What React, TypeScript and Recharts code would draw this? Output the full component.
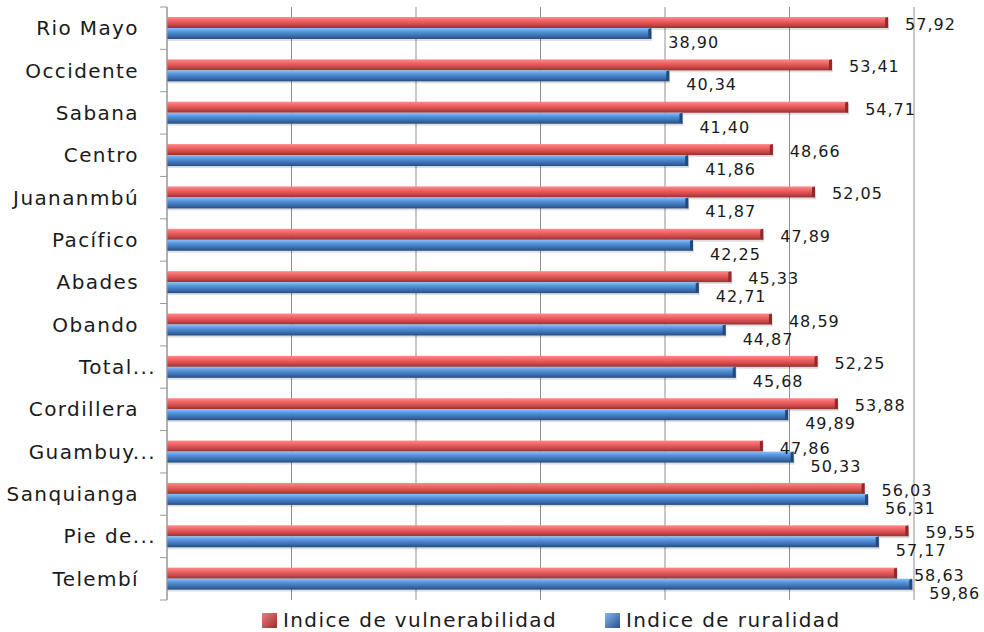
import React from 'react'
import { BarChart, Bar, XAxis, YAxis, CartesianGrid, Legend, LabelList } from 'recharts'

const regiones = [
  'Rio Mayo',
  'Occidente',
  'Sabana',
  'Centro',
  'Juananmbú',
  'Pacífico',
  'Abades',
  'Obando',
  'Total...',
  'Cordillera',
  'Guambuy...',
  'Sanquianga',
  'Pie de...',
  'Telembí',
]
const vulnerabilidad = [57.92, 53.41, 54.71, 48.66, 52.05, 47.89, 45.33, 48.59, 52.25, 53.88, 47.86, 56.03, 59.55, 58.63]
const ruralidad = [38.9, 40.34, 41.4, 41.86, 41.87, 42.25, 42.71, 44.87, 45.68, 49.89, 50.33, 56.31, 57.17, 59.86]
const xTicks = [0, 10, 20, 30, 40, 50, 60]

const data = regiones.map((region, i) => ({
  region,
  vulnerabilidad: vulnerabilidad[i],
  ruralidad: ruralidad[i],
}))

const W = 984
const H = 632
const LEGEND_H = 24
// the legend's height is added to the bottom offset by recharts
const MARGIN = { top: 7, right: 70, bottom: 32 - LEGEND_H, left: 0 }
const AXIS_W = 167
const FONT = '"DejaVu Sans", Verdana, sans-serif'
const bandSize = (H - 7 - 32) / regiones.length

const fmt = (v: number) => v.toFixed(2).replace('.', ',')

// bevelled bar: gradient body, darker end face and a soft shadow underneath
const makeBar = (id: string, endColor: string) => (props: any) => {
  const { x, y, width, height } = props
  if (!width || width <= 0) return null
  return (
    <g>
      <rect x={x + 1} y={y + 2} width={width} height={height} fill='#000' opacity={0.12} />
      <rect x={x} y={y} width={width} height={height} fill={`url(#${id})`} />
      <polygon
        points={`${x + width - 3},${y + 1} ${x + width},${y} ${x + width},${y + height} ${x + width - 3},${y + height - 1}`}
        fill={endColor}
      />
    </g>
  )
}

const VulnBar = makeBar('gradRojo', '#8e2a2a')
const RuralBar = makeBar('gradAzul', '#23497a')

const makeLabel = (dy: number) => (props: any) => {
  const { x, y, width, height, value } = props
  return (
    <text
      x={x + width + 17}
      y={y + height / 2 + dy}
      dominantBaseline='central'
      fontFamily={FONT}
      fontSize={16}
      letterSpacing={1}
      fill='#1a1a1a'
    >
      {fmt(value)}
    </text>
  )
}

const RegionTick = (props: any) => {
  const { x, y, payload, index } = props
  const name: string = payload.value
  const shift = name.endsWith('...') ? 17 : 0
  return (
    <g>
      <line x1={AXIS_W - 7} x2={AXIS_W} y1={y + bandSize / 2} y2={y + bandSize / 2} stroke='#9a9a9a' />
      {index === 0 && <line x1={AXIS_W - 7} x2={AXIS_W} y1={y - bandSize / 2} y2={y - bandSize / 2} stroke='#9a9a9a' />}
      <text
        x={x - 20 + shift}
        y={y}
        textAnchor='end'
        dominantBaseline='central'
        fontFamily={FONT}
        fontSize={20}
        letterSpacing={1.4}
        fill='#1a1a1a'
      >
        {name}
      </text>
    </g>
  )
}

const LegendSwatch = ({ id }: { id: string }) => (
  <svg width={15} height={15} style={{ marginRight: 6 }}>
    <rect x={0} y={0} width={15} height={15} fill={`url(#${id}L)`} />
    <defs>
      <linearGradient id={`${id}L`} x1='0' y1='0' x2='1' y2='1'>
        <stop offset='0%' stopColor={id === 'gradRojo' ? '#f07c7c' : '#86b6ee'} />
        <stop offset='100%' stopColor={id === 'gradRojo' ? '#9a2e2e' : '#28508a'} />
      </linearGradient>
    </defs>
  </svg>
)

const LegendContent = () => (
  <div
    style={{
      display: 'flex',
      alignItems: 'center',
      height: LEGEND_H,
      paddingLeft: 262,
      fontFamily: FONT,
      fontSize: 20,
      letterSpacing: 1.4,
      color: '#1a1a1a',
    }}
  >
    <LegendSwatch id='gradRojo' />
    <span style={{ marginRight: 48 }}>Indice de vulnerabilidad</span>
    <LegendSwatch id='gradAzul' />
    <span>Indice de ruralidad</span>
  </div>
)

export default function App() {
  return (
    <div style={{ position: 'absolute', left: 0, top: 0, width: W, height: H, background: '#fff' }}>
      <BarChart
        width={W}
        height={H}
        data={data}
        layout='vertical'
        margin={MARGIN}
        barSize={11}
        barGap={0}
      >
        <defs>
          <linearGradient id='gradRojo' x1='0' y1='0' x2='0' y2='1'>
            <stop offset='0%' stopColor='#ff8a8a' />
            <stop offset='35%' stopColor='#ee6464' />
            <stop offset='70%' stopColor='#cc4848' />
            <stop offset='100%' stopColor='#933232' />
          </linearGradient>
          <linearGradient id='gradAzul' x1='0' y1='0' x2='0' y2='1'>
            <stop offset='0%' stopColor='#8cc0f8' />
            <stop offset='35%' stopColor='#5592dc' />
            <stop offset='70%' stopColor='#3c6fb0' />
            <stop offset='100%' stopColor='#274f80' />
          </linearGradient>
        </defs>
        <CartesianGrid horizontal={false} stroke='#8f8f8f' />
        <XAxis type='number' domain={[0, 60]} ticks={xTicks} hide />
        <YAxis
          type='category'
          dataKey='region'
          width={AXIS_W}
          axisLine={{ stroke: '#9a9a9a' }}
          tickLine={false}
          tick={<RegionTick />}
          interval={0}
        />
        <Legend
          content={<LegendContent />}
          verticalAlign='bottom'
          wrapperStyle={{ left: 0, top: 608, width: W, height: LEGEND_H }}
        />
        <Bar dataKey='vulnerabilidad' shape={VulnBar} isAnimationActive={false}>
          <LabelList dataKey='vulnerabilidad' content={makeLabel(2)} />
        </Bar>
        <Bar dataKey='ruralidad' shape={RuralBar} isAnimationActive={false}>
          <LabelList dataKey='ruralidad' content={makeLabel(9)} />
        </Bar>
      </BarChart>
    </div>
  )
}
